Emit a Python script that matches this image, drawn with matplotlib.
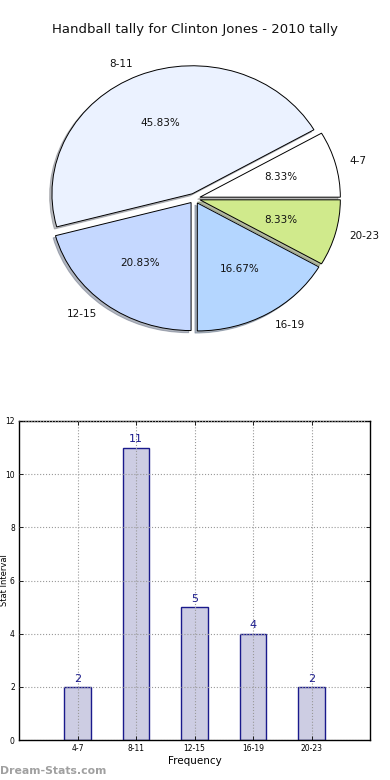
import matplotlib
matplotlib.use("Agg")
import matplotlib.pyplot as plt

categories = ["4-7", "8-11", "12-15", "16-19", "20-23"]
counts = [2, 11, 5, 4, 2]
pie_colors = ["#ffffff", "#ebf2ff", "#c5d8ff", "#b4d6ff", "#d0ea8c"]
title = "Handball tally for Clinton Jones - 2010 tally"
yticks = [0, 2, 4, 6, 8, 10, 12]

fig = plt.figure(figsize=(3.9, 7.8), dpi=100)

# ---- Pie ----
axp = fig.add_axes([19/390, 1 - 358.5/780, 351/390, 320/780])
wedges, texts, autotexts = axp.pie(
    counts, labels=categories, colors=pie_colors, explode=[0.04]*5,
    autopct="%1.2f%%", shadow={"ox": -0.012, "oy": -0.012, "shade": 0.5},
    startangle=0, pctdistance=0.6,
    labeldistance=1.1, wedgeprops=dict(edgecolor="black", linewidth=0.7),
    textprops=dict(fontsize=7.5, color="#111111"))
axp.set_aspect("auto")
axp.set_xlim(-1.25, 1.25)
axp.set_ylim(-1.25, 1.25)
axp.axis("off")
fig.text(0.5, 1 - 30/780, title, ha="center", va="center", fontsize=9.5, color="#111111")

# ---- Bar ----
axb = fig.add_axes([19/390, 40/780, 351/390, 319/780])
x = list(range(len(categories)))
bars = axb.bar(x, counts, width=0.45, color="#cdcde3", edgecolor="#1a1a8c", linewidth=1.0, zorder=1)
for xi, c in zip(x, counts):
    axb.text(xi, c + 0.12, str(c), ha="center", va="bottom", fontsize=8, color="#1a1a8c")
axb.set_xlim(-1, 5)
axb.set_ylim(0, 12)
axb.set_xticks(x)
axb.set_xticklabels(categories, fontsize=5.5)
axb.set_yticks(yticks)
axb.set_yticklabels([str(v) for v in yticks], fontsize=5.5)
axb.tick_params(direction="in", top=True, right=True, length=3, width=0.6, pad=3)
axb.grid(True, linestyle=":", color="#999999", linewidth=0.8, zorder=3)
axb.set_axisbelow(False)
axb.set_xlabel("Frequency", fontsize=7.5, labelpad=2)
axb.set_ylabel("Stat Interval", fontsize=6)
axb.yaxis.set_label_coords(-9.5/351, 0.5)
for s in axb.spines.values():
    s.set_linewidth(1.0)

fig.text(0.0, 1 - 771/780, "Dream-Stats.com", ha="left", va="center", fontsize=7.8,
         color="#a0a0a0", fontweight="bold")

fig.savefig("out.png", dpi=100)
